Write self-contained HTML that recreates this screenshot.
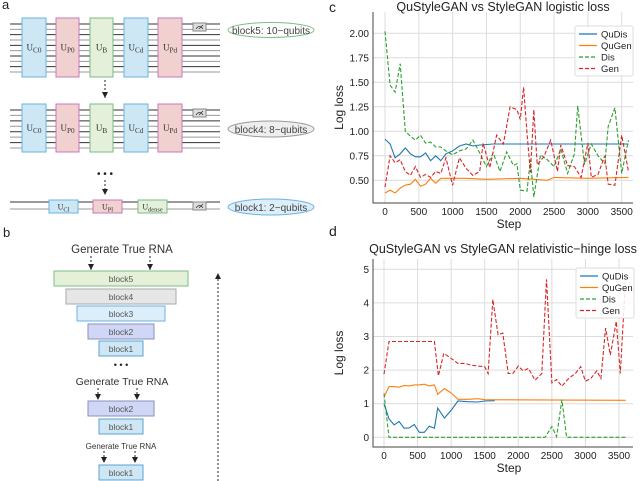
<!DOCTYPE html>
<html><head><meta charset="utf-8"><style>
html,body{margin:0;padding:0;background:#fff;}
svg{display:block;font-family:"Liberation Sans",sans-serif;}
</style></head><body>
<svg id="fig" width="640" height="481" viewBox="0 0 640 481">
<defs>
<marker id="ah" markerWidth="7" markerHeight="7" refX="6" refY="3" orient="auto" markerUnits="userSpaceOnUse"><path d="M0,0 L6,3 L0,6 z" fill="#222"/></marker>
<clipPath id="clipc"><rect x="373" y="12" width="260" height="191"/></clipPath>
<clipPath id="clipd"><rect x="373" y="259" width="260" height="188"/></clipPath>
</defs>
<g id="pa"></g>
<g id="pb"></g>
<g id="pc"></g>
<g id="pd"></g>
</svg>
<script>
// ---------- chart c data ----------
const cQuDisX=[0,75,150,225,300,375,450,525,600,675,750,825,900,1000,1100,1200,1300,1400,1600,3600];
const cQuDisY=[0.92,0.87,0.73,0.77,0.83,0.77,0.74,0.74,0.78,0.70,0.75,0.70,0.77,0.80,0.85,0.87,0.85,0.86,0.87,0.87];
const cQuGenX=[0,75,150,225,300,375,450,525,600,675,750,825,1000,1200,1500,2000,2400,2500,3000,3600];
const cQuGenY=[0.37,0.40,0.37,0.42,0.45,0.46,0.51,0.44,0.46,0.52,0.47,0.52,0.52,0.52,0.51,0.52,0.50,0.53,0.52,0.53];
const cDisX=[0,75,150,225,300,375,450,525,600,675,750,825,900,1000,1100,1200,1300,1400,1500,1600,1700,1800,1900,1950,2000,2100,2150,2200,2300,2400,2500,2600,2700,2800,2850,2950,3050,3150,3250,3300,3400,3500,3600];
const cDisY=[2.02,1.47,1.40,1.69,1.00,0.95,0.91,0.96,0.88,0.89,0.84,0.84,0.80,0.76,0.80,0.82,0.91,0.78,0.64,0.78,0.59,0.79,0.65,0.67,0.40,0.39,0.71,0.33,0.76,0.71,0.64,0.82,0.57,0.77,1.26,0.66,0.87,0.75,0.67,1.05,1.24,0.57,0.91];
const cGenX=[0,75,150,225,300,375,450,525,600,675,750,825,900,1000,1100,1200,1300,1400,1450,1550,1650,1750,1850,1950,2000,2050,2100,2150,2200,2250,2350,2450,2550,2600,2700,2800,2900,3000,3050,3150,3250,3300,3400,3500,3600];
const cGenY=[0.43,0.75,0.68,0.71,0.59,0.55,0.64,0.53,0.56,0.53,0.59,0.57,0.73,0.45,0.73,0.62,0.55,0.59,0.88,0.63,0.96,0.87,1.25,1.22,1.12,1.45,0.98,0.58,1.22,0.66,0.74,0.91,0.59,0.86,0.65,0.64,0.53,0.88,0.53,0.56,0.75,0.46,0.45,0.96,0.59];
const cYTicks=[0.50,0.75,1.00,1.25,1.50,1.75,2.00];
const cYTickLabels=["0.50","0.75","1.00","1.25","1.50","1.75","2.00"];
// ---------- chart d data ----------
const dQuDisX=[0,75,150,225,300,375,450,525,600,675,750,800,900,1000,1100,1250,1400,1500,1650];
const dQuDisY=[1.0,0.55,0.37,0.47,0.27,0.28,0.38,0.15,0.15,0.33,0.27,0.87,0.57,0.80,1.08,1.06,1.05,1.08,1.09];
const dQuGenX=[0,75,150,225,300,375,450,525,600,675,750,800,900,1000,1100,1250,1400,1500,3600];
const dQuGenY=[1.2,1.51,1.51,1.49,1.54,1.53,1.56,1.56,1.58,1.53,1.56,1.28,1.45,1.32,1.13,1.13,1.15,1.12,1.10];
const dDisX=[0,75,2400,2500,2570,2650,2720,3600];
const dDisY=[1.3,0,0,0.32,0.02,1.12,0,0];
const dGenX=[0,75,200,700,750,810,890,1000,1100,1200,1300,1400,1500,1550,1620,1700,1770,1850,1920,2000,2070,2150,2250,2350,2420,2500,2570,2650,2750,2850,2930,3000,3080,3170,3230,3300,3370,3460,3520,3600];
const dGenY=[1.88,2.85,2.85,2.85,2.85,1.83,2.5,2.35,2.2,2.2,2.15,2.12,2.1,1.9,4.1,3.05,3.1,1.9,1.9,2.12,1.98,2.05,1.7,1.9,4.7,1.62,1.72,1.52,1.75,1.9,2.1,1.67,1.75,1.98,1.75,3.25,2.45,3.45,1.9,4.8];
const dYTicks=[0,1,2,3,4,5];
const dYTickLabels=["0","1","2","3","4","5"];
const xTicks=[0,500,1000,1500,2000,2500,3000,3500];
const xTickLabels=["0","500","1000","1500","2000","2500","3000","3500"];

const NS="http://www.w3.org/2000/svg";
function mk(parent,tag,attrs,text){const e=document.createElementNS(NS,tag);for(const k in attrs)e.setAttribute(k,attrs[k]);if(text!==undefined)e.textContent=text;parent.appendChild(e);return e;}

function chart(g,o){
  const sx=v=>o.x0+(v/3500)*(o.x3500-o.x0);
  const sy=v=>o.yA+(v-o.vA)/(o.vB-o.vA)*(o.yB-o.yA);
  const L=373,R=633;
  xTicks.forEach((t,i)=>{
    const l=mk(g,'line',{x1:sx(t),x2:sx(t),y1:o.top,y2:o.bot,stroke:'#dcdcdc','stroke-width':1});
    
    
    const tx=mk(g,'text',{x:sx(t),y:o.bot+12,'font-size':'10','text-anchor':'middle',fill:'#222'},xTickLabels[i]);
    
    
  });
  o.yt.forEach((t,i)=>{
    const l=mk(g,'line',{x1:L,x2:R,y1:sy(t),y2:sy(t),stroke:'#dcdcdc','stroke-width':1});
    
    
    const tx=mk(g,'text',{x:L-4,y:sy(t)+3.5,'font-size':'10','text-anchor':'end',fill:'#222'},o.ytl[i]);
    
    
  });
  const ax=mk(g,'path',{d:`M${L},${o.top} L${L},${o.bot} L${R},${o.bot}`,fill:'none',stroke:'#444','stroke-width':1});
  
  
  const cols=['#1f77b4','#ff7f0e','#2ca02c','#d62728'];
  const names=['qudis-line','qugen-line','dis-line','gen-line'];
  o.series.forEach((s,i)=>{
    const d=s[0].map((x,j)=>(j?'L':'M')+sx(x).toFixed(1)+','+sy(s[1][j]).toFixed(1)).join(' ');
    const p=mk(g,'path',{d:d,fill:'none',stroke:cols[i],'stroke-width':1.1,'clip-path':`url(#${o.clip})`});
    if(i>=2)p.setAttribute('stroke-dasharray','4,2');
    
    
  });
  const lg=mk(g,'g',{});
  
  
  mk(lg,'rect',{x:o.lx,y:o.ly,width:58,height:50,rx:2,fill:'#fff','fill-opacity':0.85,stroke:'#ddd'});
  ['QuDis','QuGen','Dis','Gen'].forEach((n,i)=>{
    const y=o.ly+8+i*11.5;
    const ln=mk(lg,'line',{x1:o.lx+4,x2:o.lx+22,y1:y,y2:y,stroke:cols[i],'stroke-width':1.2});
    if(i>=2)ln.setAttribute('stroke-dasharray','4,2');
    const t=mk(lg,'text',{x:o.lx+26,y:y+3.5,'font-size':'9.5',fill:'#222'},n);
    
    
  });
  const ti=mk(g,'text',{x:503,y:o.titleY,'font-size':'12.5','text-anchor':'middle',fill:'#222'},o.title);
  
  
  const xl=mk(g,'text',{x:509,y:o.bot+25,'font-size':'12','text-anchor':'middle',fill:'#222'},'Step');
  
  
  const yc=(o.top+o.bot)/2;
  const yl=mk(g,'text',{x:343,y:yc,'font-size':'12','text-anchor':'middle',fill:'#222',transform:`rotate(-90 343 ${yc})`},'Log loss');
  
  
}
const pc=document.getElementById('pc');
const lc=mk(pc,'text',{x:329,y:12,'font-size':'14',fill:'#222'},'c');


chart(pc,{x0:385,x3500:621.7,yA:180.3,vA:0.5,yB:33.3,vB:2.0,top:12,bot:203,clip:'clipc',yt:cYTicks,ytl:cYTickLabels,
  series:[[cQuDisX,cQuDisY],[cQuGenX,cQuGenY],[cDisX,cDisY],[cGenX,cGenY]],lx:575,ly:26,title:'QuStyleGAN vs StyleGAN logistic loss',titleY:11});
const pd=document.getElementById('pd');
const ld=mk(pd,'text',{x:329,y:236,'font-size':'14',fill:'#222'},'d');


chart(pd,{x0:384,x3500:619,yA:437.3,vA:0,yB:269.3,vB:5,top:259,bot:447,clip:'clipd',yt:dYTicks,ytl:dYTickLabels,
  series:[[dQuDisX,dQuDisY],[dQuGenX,dQuGenY],[dDisX,dDisY],[dGenX,dGenY]],lx:576,ly:268,title:'QuStyleGAN vs StyleGAN relativistic\u2212hinge loss',titleY:253});

// ---------- panel a ----------
const pa=document.getElementById('pa');
const la=mk(pa,'text',{x:2,y:9,'font-size':'13',fill:'#222'},'a');


const blue={f:'#cde7f5',s:'#6ab3e2'},pink={f:'#f1d0d0',s:'#c77ab8'},green={f:'#e4f0d9',s:'#7dbd86'};
function wires(y0,y1,n){for(let i=0;i<n;i++){const y=y0+(y1-y0)*i/(n-1);const w=mk(pa,'line',{x1:10,x2:220,y1:y,y2:y,stroke:i%2?'#999':'#333','stroke-width':1});}}
function gate(x,y,w,h,c,lab,sub,fs){const r=mk(pa,'rect',{x:x,y:y,width:w,height:h,fill:c.f,stroke:c.s,'stroke-width':1});
 const t=mk(pa,'text',{x:x+w/2,y:y+h/2+3,'font-size':fs||9,'text-anchor':'middle',fill:'#333','font-family':'Liberation Serif'},'U');mk(t,'tspan',{'font-size':(fs||9)*0.8,dy:2},sub);}
function meter(x,y){const r=mk(pa,'rect',{x:x,y:y,width:13,height:8,fill:'#ddd',stroke:'#888'});mk(pa,'path',{d:`M${x+3},${y+6} Q${x+6.5},${y+1} ${x+10},${y+6} M${x+6},${y+6} L${x+10},${y+2}`,fill:'none',stroke:'#333','stroke-width':0.8});}
function ell(cx,cy,rx,ry,fill,stroke,txt){const e=mk(pa,'ellipse',{cx:cx,cy:cy,rx:rx,ry:ry,fill:fill,stroke:stroke});mk(pa,'text',{x:cx,y:cy+4,'font-size':'10','text-anchor':'middle',fill:'#444'},txt);}
function darrow(g,x,y1,y2){const a=mk(g,'line',{x1:x,x2:x,y1:y1,y2:y2,stroke:'#222','stroke-width':1,'stroke-dasharray':'2,2','marker-end':'url(#ah)'});}
wires(24,72,10);
gate(22,18,24,59,blue,'U','C0');gate(56,18,23,59,pink,'U','P0');gate(90,18,23,59,green,'U','B');gate(124,18,24,59,blue,'U','Cd');gate(158,18,24,59,pink,'U','Pd');
meter(193,23);ell(271,30,43,7.5,'#fff','#7dbd86','block5: 10\u2212qubits');
darrow(pa,105,80,98);
wires(110,148,8);
gate(22,104,24,48,blue,'U','C0');gate(56,104,23,48,pink,'U','P0');gate(90,104,23,48,green,'U','B');gate(124,104,24,48,blue,'U','Cd');gate(158,104,24,48,pink,'U','Pd');
meter(193,109);ell(271,129,43,8,'#eee','#999','block4: 8\u2212qubits');
mk(pa,'text',{x:105,y:177,'font-size':'10','text-anchor':'middle',fill:'#222'},'• • •');
darrow(pa,105,180,195);
wires(202,209,2);
gate(49,200,29,13,blue,'U','Cl',8);gate(93,200,29,13,pink,'U','Pl',8);gate(138,200,29,13,green,'U','dense',8);
meter(193,202);ell(271,207,43,8,'#dbeefa','#6ab3e2','block1: 2\u2212qubits');

// ---------- panel b ----------
const pb=document.getElementById('pb');
const lb=mk(pb,'text',{x:3,y:237,'font-size':'13',fill:'#222'},'b');


const bc={5:['#e5f0d9','#7dbd86'],4:['#e6e6e6','#aaa'],3:['#ddeefb','#6ab3e2'],2:['#d0d6f5','#8a92bb'],1:['#cfe7f4','#5aa3d3']};
function blk(x1,x2,y,n){const r=mk(pb,'rect',{x:x1,y:y,width:x2-x1,height:15,fill:bc[n][0],stroke:bc[n][1],'stroke-width':1});mk(pb,'text',{x:(x1+x2)/2,y:y+11,'font-size':'8.5','text-anchor':'middle',fill:'#555'},'block'+n);}
function gen(cx,y,fs,ax1,ax2,ay1,ay2){const t=mk(pb,'text',{x:cx,y:y,'font-size':fs,'text-anchor':'middle',fill:'#333'},'Generate  True RNA');darrow(pb,ax1,ay1,ay2);darrow(pb,ax2,ay1,ay2);}
gen(122,253,11.5,91,150,256,270);
blk(54,188,271,5);blk(66,176,289,4);blk(77,165,306,3);blk(88,154,324,2);blk(99,143,341,1);
mk(pb,'text',{x:121,y:368,'font-size':'9','text-anchor':'middle',fill:'#222'},'• • •');
gen(122,385,10.5,98,137,388,400);
blk(88,154,401,2);blk(99,143,419,1);
gen(121,449,8,104,135,451,463);
blk(99,143,465,1);
darrow(pb,218,481,273);
</script>
</body></html>
